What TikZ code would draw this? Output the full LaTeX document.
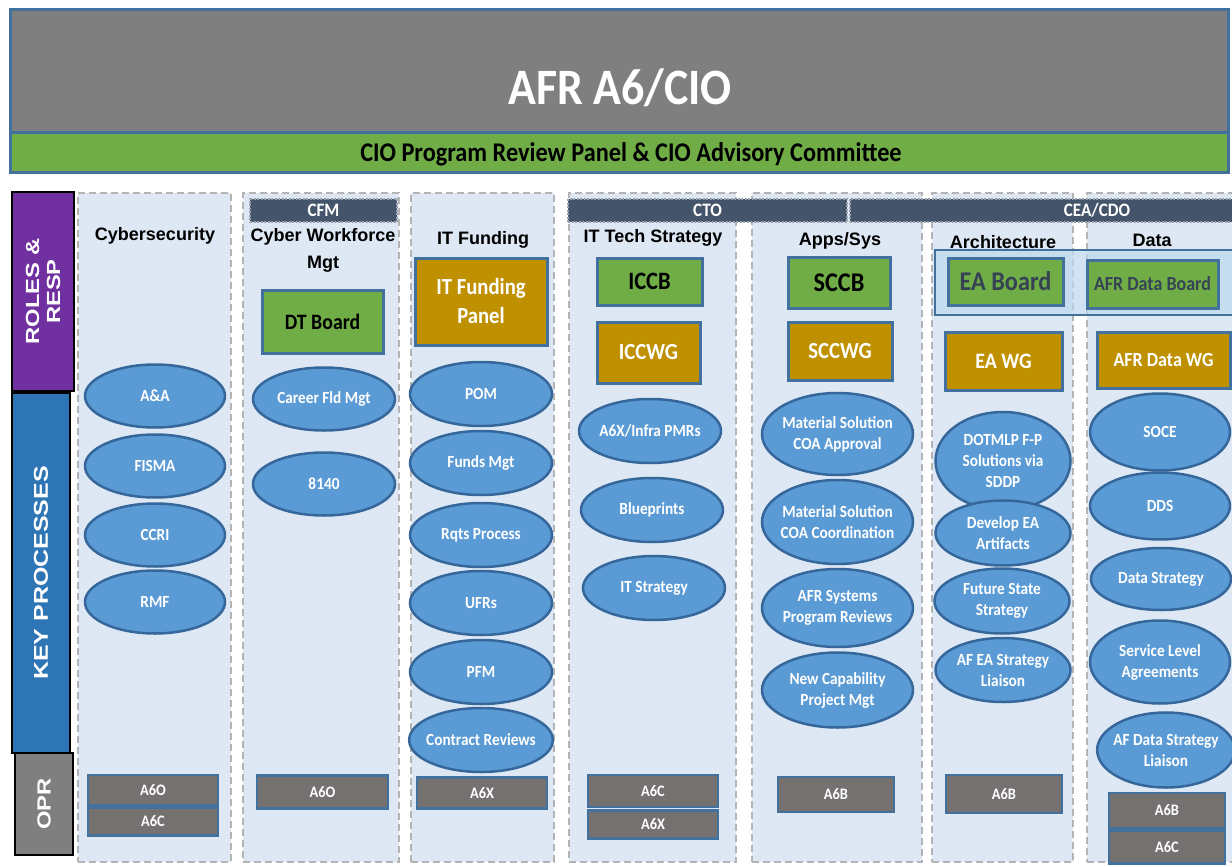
\documentclass[tikz,border=0pt]{standalone}
\usepackage{fontspec}
\setmainfont{Carlito}[FakeStretch=0.9]
\newfontfamily\headfont{Liberation Sans}
\newfontfamily\sidefont{Liberation Sans}[FakeStretch=1.25]
\usepackage{tikz}
\usetikzlibrary{shapes.geometric}
\usetikzlibrary{positioning}
\definecolor{titleGray}{HTML}{7F7F7F}
\definecolor{edgeBlue}{HTML}{41719C}
\definecolor{panelGreen}{HTML}{70AD47}
\definecolor{boardOrange}{HTML}{BF9000}
\definecolor{rolePurple}{HTML}{7030A0}
\definecolor{keyBlue}{HTML}{2E75B6}
\definecolor{tagNavy}{HTML}{44546A}
\definecolor{laneFill}{HTML}{DEE8F4}
\definecolor{laneDash}{HTML}{B4B4B4}
\definecolor{procBlue}{HTML}{5B9BD5}
\definecolor{procEdge}{HTML}{35679A}
\definecolor{oprGray}{HTML}{767171}
\definecolor{bandBlue}{HTML}{BDD7EE}

\newcommand{\pxfont}[2]{\fontsize{#1}{#2}\selectfont}

\tikzset{
    lane/.style={draw=laneDash, fill=laneFill, line width=2.5pt, dash pattern=on 7pt off 4pt, minimum height=669pt, inner sep=0pt},
    lanetitle/.style={font=\headfont\bfseries\pxfont{18}{27}, align=center, inner sep=0pt},
    tag/.style={fill=tagNavy, draw=tagNavy!55!white, line width=1.2pt, dash pattern=on 2pt off 1.5pt, text=white, font=\bfseries\pxfont{19}{19}, minimum height=23pt, inner sep=0pt},
    board/.style={draw=edgeBlue, line width=3pt, fill=panelGreen, text=black, font=\bfseries\pxfont{24}{24}, inner sep=0pt},
    wgroup/.style={draw=edgeBlue, line width=3pt, fill=boardOrange, text=white, font=\bfseries\pxfont{23}{29}, align=center, inner sep=0pt},
    proc/.style={ellipse, draw=procEdge, line width=2.5pt, fill=procBlue, text=white, font=\bfseries\pxfont{17}{21}, align=center, inner xsep=-4pt, inner ysep=-3pt},
    opr/.style={draw=edgeBlue, line width=2.5pt, fill=oprGray, text=white, font=\bfseries\pxfont{16}{16}, inner sep=0pt},
    side/.style={draw=black, line width=1.5pt, text=white, font=\sidefont\bfseries\pxfont{19}{21}, align=center, inner sep=0pt, rotate=90},
}

\begin{document}
\begin{tikzpicture}[x=1pt, y=-1pt]
    \clip (0,0) rectangle (1232,867);
    \fill [white] (0,0) rectangle (1232,867);

    % header bars
    \node (head) [draw=edgeBlue, line width=3pt, fill=titleGray, minimum width=1218pt, minimum height=122pt, inner sep=0pt] at (619,71) {};
    \node (head_text) [text=white, font=\bfseries\pxfont{51}{51}] at (620,88) {AFR A6/CIO};
    \node (panel) [draw=edgeBlue, line width=3pt, fill=panelGreen, minimum width=1218pt, minimum height=40pt, inner sep=0pt] at (619,152) {};
    \node (panel_text) [font=\bfseries\pxfont{27}{27}] at (631,154) {CIO Program Review Panel \& CIO Advisory Committee};

    % row labels on the left
    \node (roles) [side, fill=rolePurple, minimum width=199pt, minimum height=62pt] at (43,291.5) {ROLES \&\\RESP};
    \node (keyproc) [side, fill=keyBlue, minimum width=360pt, minimum height=58pt, font=\sidefont\bfseries\pxfont{20}{21}] at (41,573) {KEY PROCESSES};
    \node (oprside) [side, fill=titleGray, minimum width=102pt, minimum height=58pt] at (44,804) {OPR};

    % swim lanes
    \node (cyber) [lane, minimum width=153pt] at (154.5,527.5) {};
    \node (cwm) [lane, minimum width=156pt] at (321,527.5) {};
    \node (fund) [lane, minimum width=143pt] at (482.5,527.5) {};
    \node (tech) [lane, minimum width=167pt] at (652.5,527.5) {};
    \node (apps) [lane, minimum width=170pt] at (837,527.5) {};
    \node (arch) [lane, minimum width=141pt] at (1002.5,527.5) {};
    \node (data) [lane, minimum width=163pt] at (1168.5,527.5) {};

    \node (cfm) [tag, minimum width=147pt] at (323.5,210.5) {CFM};
    \node (cto) [tag, minimum width=279pt] at (707.5,210.5) {CTO};
    \node (ceacdo) [tag, minimum width=494pt] at (1097,210.5) {CEA/CDO};

    \node (cyber_title) [lanetitle] at (155,236) {Cybersecurity};
    \node (cwm_title) [lanetitle] at (323,250) {Cyber Workforce\\Mgt};
    \node (fund_title) [lanetitle] at (483,240) {IT Funding};
    \node (tech_title) [lanetitle] at (653,238) {IT Tech Strategy};
    \node (apps_title) [lanetitle] at (840,241) {Apps/Sys};
    \node (arch_title) [lanetitle] at (1003,242) {Architecture};
    \node (data_title) [lanetitle] at (1152,240) {Data};

    % boards and working groups
    \node (eaband) [draw=edgeBlue, line width=1.5pt, fill=bandBlue, fill opacity=0.7, minimum width=315pt, minimum height=65pt] at (1092.5,282.5) {};
    \node (dtboard) [board, minimum width=121pt, minimum height=63pt, font=\bfseries\pxfont{22}{22}] at (322.5,321.5) {DT Board};
    \node (fundpanel) [wgroup, minimum width=132pt, minimum height=87pt] at (481,301.5) {IT Funding\\Panel};
    \node (iccb) [board, minimum width=105pt, minimum height=47pt, font=\bfseries\pxfont{25}{25}] at (649.5,281.5) {ICCB};
    \node (iccwg) [wgroup, minimum width=103pt, minimum height=61pt] at (648.5,352.5) {ICCWG};
    \node (sccb) [board, minimum width=102pt, minimum height=51pt, font=\bfseries\pxfont{27}{27}] at (839,282.5) {SCCB};
    \node (sccwg) [wgroup, minimum width=104pt, minimum height=58pt] at (840,351) {SCCWG};
    \node (eaboard) [board, minimum width=115pt, minimum height=47pt, text=tagNavy!80!black, font=\bfseries\pxfont{27}{27}] at (1005.5,281.5) {EA Board};
    \node (eawg) [wgroup, minimum width=117pt, minimum height=58pt, font=\bfseries\pxfont{22}{22}] at (1003.5,361) {EA WG};
    \node (databoard) [board, minimum width=131pt, minimum height=48pt, text=tagNavy!80!black, font=\bfseries\pxfont{20}{20}] at (1152.5,284) {AFR Data Board};
    \node (datawg) [wgroup, minimum width=133pt, minimum height=56pt, font=\bfseries\pxfont{20}{20}] at (1163.5,360) {AFR Data WG};

    % key processes
    \begin{scope}[proc/.append style={minimum width=140pt, minimum height=63pt}]
        \node (aa) [proc] at (155,396) {A\&A};
        \node (fisma) [proc] at (155,466) {FISMA};
        \node (ccri) [proc] at (155,535) {CCRI};
        \node (rmf) [proc] at (155,602) {RMF};
        \node (career) [proc, minimum width=142pt] at (324,399) {Career Fld Mgt};
        \node (n8140) [proc, minimum width=142pt] at (324,484) {8140};
    \end{scope}
    \begin{scope}[proc/.append style={minimum width=142pt, minimum height=64pt}]
        \node (pom) [proc] at (481,394) {POM};
        \node (funds) [proc] at (481,463) {Funds Mgt};
        \node (rqts) [proc] at (481,535) {Rqts Process};
        \node (ufrs) [proc] at (481,603) {UFRs};
        \node (pfm) [proc] at (481,672) {PFM};
        \node (contract) [proc] at (481,740) {Contract Reviews};
        \node (pmrs) [proc] at (650,431) {A6X/Infra PMRs};
        \node (blueprints) [proc] at (652,510) {Blueprints};
        \node (itstrat) [proc] at (654,588) {IT Strategy};
    \end{scope}
    \begin{scope}[proc/.append style={minimum width=151pt, minimum height=78pt}]
        \node (coaappr) [proc, minimum height=82pt] at (837.5,434) {Material Solution\\COA Approval};
        \node (coacoord) [proc, minimum height=84pt] at (837.5,522) {Material Solution\\COA Coordination};
        \node (sysrev) [proc] at (837.5,608) {AFR Systems\\Program Reviews};
        \node (newcap) [proc, minimum height=75pt] at (837.5,690) {New Capability\\Project Mgt};
    \end{scope}
    \begin{scope}[proc/.append style={minimum width=135pt, minimum height=65pt}]
        \node (dotmlp) [proc, minimum height=98pt] at (1003,461) {DOTMLP F-P\\Solutions via\\SDDP};
        \node (artifacts) [proc] at (1003,533) {Develop EA\\Artifacts};
        \node (future) [proc] at (1002,601) {Future State\\Strategy};
        \node (ealiaison) [proc, minimum height=64pt] at (1003,670) {AF EA Strategy\\Liaison};
    \end{scope}
    \begin{scope}[proc/.append style={minimum width=140pt, minimum height=70pt}]
        \node (soce) [proc, minimum height=77pt] at (1160,432) {SOCE};
        \node (dds) [proc, minimum height=67pt] at (1160,506) {DDS};
        \node (datastrat) [proc, minimum height=62pt] at (1161,579) {Data Strategy};
        \node (sla) [proc, minimum height=83pt] at (1160,662) {Service Level\\Agreements};
        \node (dataliaison) [proc, minimum width=128pt, minimum height=75pt] at (1166,750) {AF Data Strategy\\Liaison};
    \end{scope}

    % offices of primary responsibility
    \node (cyber_opr) [opr, minimum width=130pt, minimum height=30pt] at (153,790) {A6O};
    \node (cyber_opr2) [opr, minimum width=130pt, minimum height=28pt, below=0pt of cyber_opr] {A6C};
    \node (cwm_opr) [opr, minimum width=131pt, minimum height=33pt] at (322.5,792) {A6O};
    \node (fund_opr) [opr, minimum width=130pt, minimum height=31pt] at (482,793) {A6X};
    \node (tech_opr) [opr, minimum width=130pt, minimum height=32pt] at (653,791) {A6C};
    \node (tech_opr2) [opr, minimum width=130pt, minimum height=28pt, below=1pt of tech_opr] {A6X};
    \node (apps_opr) [opr, minimum width=116pt, minimum height=35pt] at (836,794.5) {A6B};
    \node (arch_opr) [opr, minimum width=116pt, minimum height=38pt] at (1004,794) {A6B};
    \node (data_opr) [opr, minimum width=116pt, minimum height=35pt] at (1167,810.5) {A6B};
    \node (data_opr2) [opr, minimum width=116pt, minimum height=33pt, below=0pt of data_opr] {A6C};
\end{tikzpicture}
\end{document}
